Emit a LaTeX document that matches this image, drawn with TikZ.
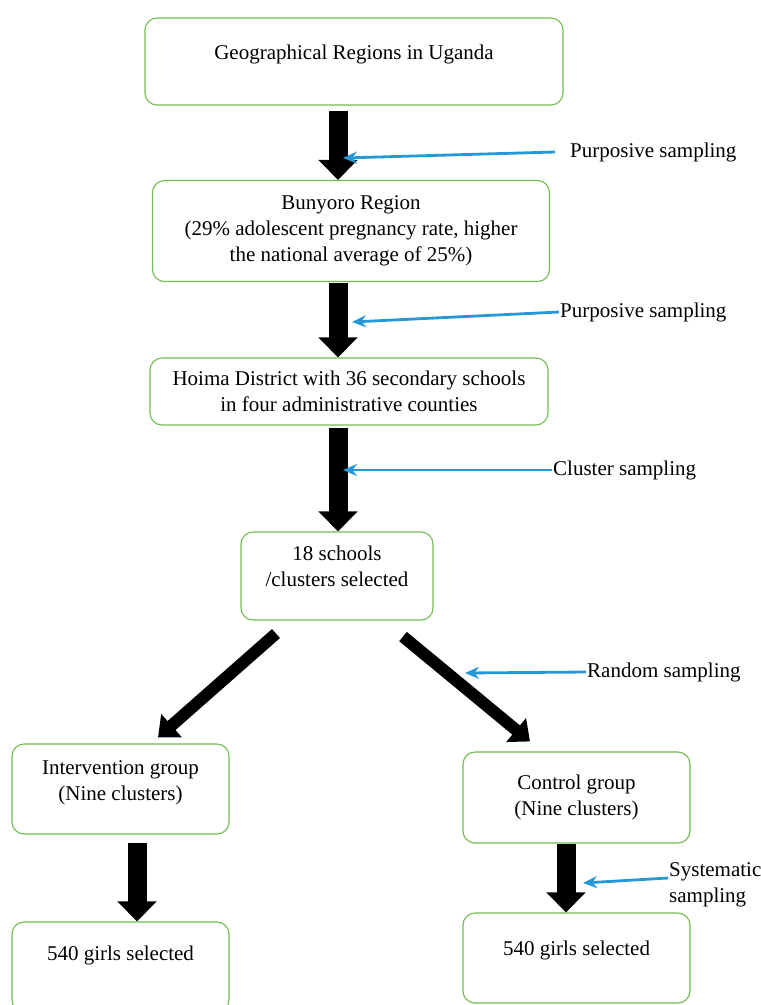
\documentclass[tikz,border=0pt]{standalone}
\usepackage{fontspec}
\setmainfont{Liberation Serif}
\usetikzlibrary{arrows.meta, calc}

\definecolor{boxgreen}{RGB}{112,188,78}
\definecolor{pointblue}{RGB}{38,152,216}

\tikzset{
	stage/.style = {draw=boxgreen, line width=1.1pt, rounded corners=12pt, align=center, inner sep=0pt, font=\fontsize{21}{26}\selectfont},
	flow/.style = {line width=19pt, -{Triangle[width=38pt, length=20pt]}},
	slantflow/.style = {line width=12pt, -{Triangle[width=30pt, length=18pt]}},
	pointer/.style = {pointblue, line width=2.8pt, -{Stealth[length=14pt, width=12pt]}},
	method/.style = {anchor=west, align=left, inner sep=1pt, font=\fontsize{21}{26}\selectfont}
}

\begin{document}
\begin{tikzpicture}[x=1pt, y=-1pt]
			\useasboundingbox (0,0) rectangle (761,1005);
			
			\node [stage, minimum width=418pt, minimum height=87pt, text depth=19.5pt] (regions) at (354,61.5) {Geographical Regions in Uganda};
			\node [stage, minimum width=397pt, minimum height=101pt] (bunyoro) at (351,231) {Bunyoro Region\\(29\% adolescent pregnancy rate, higher\\the national average of 25\%)};
			\node [stage, minimum width=398pt, minimum height=67pt] (hoima) at (349,391.5) {Hoima District with 36 secondary schools\\in four administrative counties};
			\node [stage, minimum width=192pt, minimum height=88pt, text depth=20.5pt] (schools) at (337,576) {18 schools\\/clusters selected};
			\node [stage, minimum width=217pt, minimum height=90pt, text depth=16.5pt] (intervention) at (120.5,789) {Intervention group\\(Nine clusters)};
			\node [stage, minimum width=227pt, minimum height=91pt] (control) at (576.5,797.5) {Control group\\(Nine clusters)};
			\node [stage, minimum width=217pt, minimum height=90pt, text depth=28.5pt] (girlsleft) at (120.5,967) {540 girls selected};
			\node [stage, minimum width=227pt, minimum height=90pt, text depth=20.5pt] (girlsright) at (576.5,958) {540 girls selected};
			
			\begin{scope}[black]
				\draw [flow] ([xshift=-16pt, yshift=-5pt]regions.south) -- ([xshift=-13pt]bunyoro.north);
				\draw [flow] ([xshift=-13pt, yshift=-1pt]bunyoro.south) -- ([xshift=-11pt]hoima.north);
				\draw [flow] ([xshift=-11pt, yshift=-2pt]hoima.south) -- ([xshift=1pt]schools.north);
				\draw [slantflow] ([xshift=-61pt, yshift=-13pt]schools.south) -- ([xshift=37.5pt, yshift=6pt]intervention.north);
				\draw [slantflow] ([xshift=66pt, yshift=-16pt]schools.south) -- ([xshift=-46.5pt, yshift=10pt]control.north);
				\draw [flow] ([xshift=16.5pt, yshift=-8pt]intervention.south) -- ([xshift=16.5pt]girlsleft.north);
				\draw [flow] ([xshift=-10.5pt]control.south) -- ([xshift=-10.5pt]girlsright.north);
			\end{scope}
			
			\node [method] (purposiveone) at (569,152) {Purposive sampling};
			\node [method] (purposivetwo) at (559,312) {Purposive sampling};
			\node [method] (cluster) at (552,470) {Cluster sampling};
			\node [method] (random) at (586,672) {Random sampling};
			\node [method] (systematic) at (668,885) {Systematic\\sampling};
			
			\coordinate (tipone) at (343,158);
			\coordinate (tiptwo) at (352,322);
			\coordinate (tipthree) at (343,470);
			\coordinate (tipfour) at (465,673);
			\coordinate (tipfive) at (583,883);
			
			\draw [pointer] ([xshift=-14pt]purposiveone.west) -- (tipone);
			\draw [pointer] (purposivetwo.west) -- (tiptwo);
			\draw [pointer] (cluster.west) -- (tipthree);
			\draw [pointer] (random.west) -- (tipfour);
			\draw [pointer] ([yshift=7pt]systematic.west) -- (tipfive);
		\end{tikzpicture}
\end{document}
